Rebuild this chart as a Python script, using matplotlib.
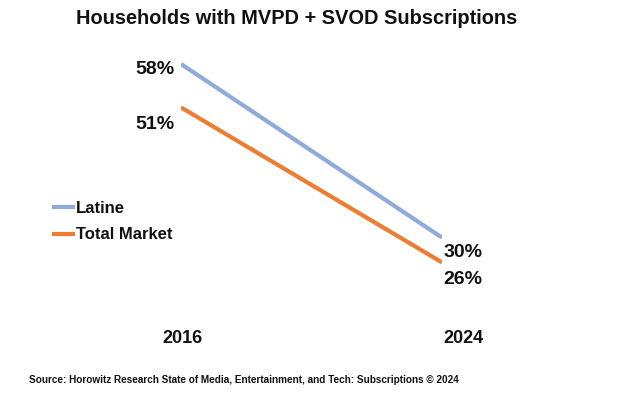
import matplotlib
matplotlib.use('Agg')
import matplotlib.pyplot as plt

years = [2016, 2024]
year_labels = ["2016", "2024"]
latine = [58, 30]
total_market = [51, 26]

BLUE = "#8FAADC"
ORANGE = "#ED7D31"
TXT = "#111111"

plt.rcParams['font.family'] = ['Liberation Sans', 'DejaVu Sans']

fig = plt.figure(figsize=(6.4, 3.94), dpi=100)
W, H = 640.0, 394.0
# axes spans 2016..2024 horizontally, 20..62 vertically
ax = fig.add_axes([181 / W, 1 - 299.6 / H, (442 - 181) / W, (299.6 - 39.2) / H])
ax.set_xlim(2016, 2024)
ax.set_ylim(20, 62)
ax.axis('off')

l1, = ax.plot(years, latine, color=BLUE, lw=3, solid_capstyle='butt', label="Latine")
l2, = ax.plot(years, total_market, color=ORANGE, lw=3, solid_capstyle='butt', label="Total Market")

fs = 14
# value labels
ax.annotate(f"{latine[0]}%", (years[0], latine[0]), xytext=(-5, -4), textcoords='offset points',
            ha='right', va='center', fontsize=fs, fontweight='bold', color=TXT)
ax.annotate(f"{total_market[0]}%", (years[0], total_market[0]), xytext=(-5, -12), textcoords='offset points',
            ha='right', va='center', fontsize=fs, fontweight='bold', color=TXT)
ax.annotate(f"{latine[1]}%", (years[1], latine[1]), xytext=(1, -11), textcoords='offset points',
            ha='left', va='center', fontsize=fs, fontweight='bold', color=TXT)
ax.annotate(f"{total_market[1]}%", (years[1], total_market[1]), xytext=(1, -12), textcoords='offset points',
            ha='left', va='center', fontsize=fs, fontweight='bold', color=TXT)

# year labels below
for x, lab, dx in zip(years, year_labels, [1, 21]):
    ax.annotate(lab, (x, 20), xytext=(dx * 0.72, -28), textcoords='offset points',
                ha='center', va='center', fontsize=13, fontweight='bold', color=TXT)

fig.text(297 / W, 1 - 19 / H, "Households with MVPD + SVOD Subscriptions", ha='center', va='center',
         fontsize=14.4, fontweight='bold', color=TXT)

fig.legend(handles=[l1, l2], loc='upper left', bbox_to_anchor=(45 / W, 1 - 194 / H), frameon=False,
           handlelength=1.4, handletextpad=0.05, labelspacing=0.7, borderaxespad=0,
           prop={'weight': 'bold', 'size': 12}, labelcolor=TXT)

fig.text(29 / W, 1 - 380 / H,
         "Source: Horowitz Research State of Media, Entertainment, and Tech: Subscriptions \u00a9 2024",
         ha='left', va='center', fontsize=7.2, fontweight='bold', color=TXT)

fig.savefig("out.png", dpi=100, facecolor='white')
